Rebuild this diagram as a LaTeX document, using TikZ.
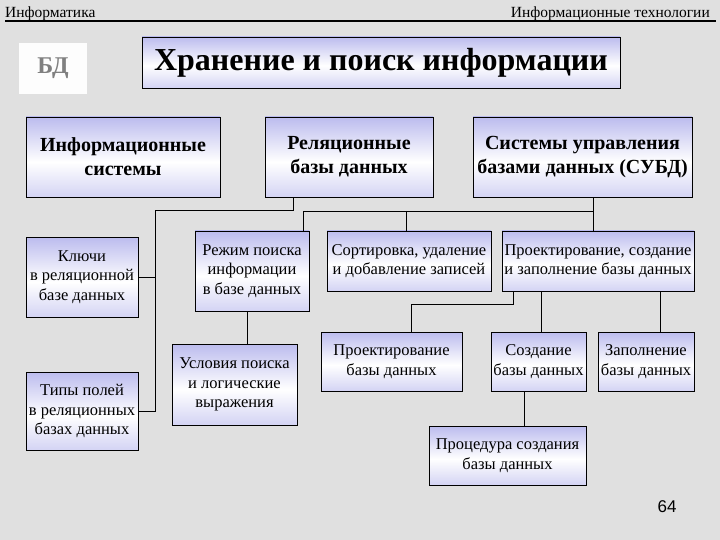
\documentclass[tikz,border=0pt]{standalone}
\usepackage{fontspec}
\setmainfont{Liberation Serif}
\newfontfamily\numfont{Liberation Sans}
\definecolor{paper}{HTML}{E0E0E0}
\definecolor{lilac}{HTML}{BCBCEE}
\pgfdeclareverticalshading{boxshade}{100bp}{color(0bp)=(lilac!65!white); color(25bp)=(lilac!65!white); color(47bp)=(white); color(75bp)=(lilac); color(100bp)=(lilac)}

\begin{document}
\begin{tikzpicture}[x=1pt,y=-1pt,
  box/.style={draw, line width=0.8pt, shading=boxshade, align=center, inner sep=0pt},
  bigbox/.style={box, font=\fontsize{20}{24}\selectfont\bfseries},
  smallbox/.style={box, font=\fontsize{16.5}{19.5}\selectfont},
  link/.style={line width=0.8pt}]
\useasboundingbox (0,0) rectangle (720,540);
\fill[paper] (0,0) rectangle (720,540);

% header
\node[anchor=base west, inner sep=0pt, font=\fontsize{15.5}{15}\selectfont] (hleft) at (5,18) {Информатика};
\node[anchor=base east, inner sep=0pt, font=\fontsize{15.5}{15}\selectfont] (hright) at (710,18) {Информационные технологии};
\draw[line width=1.5pt] (5,21) -- (716,21);

\node[fill=white!95!paper, minimum width=68, minimum height=51, text=gray, font=\fontsize{24}{24}\selectfont\bfseries] (bd) at (53,68.5) {БД};
\node[box, minimum width=478, minimum height=51, font=\fontsize{32}{32}\selectfont\bfseries] (title) at (381,62.5) {Хранение и поиск информации};

% first row
\node[bigbox, minimum width=194, minimum height=80] (infosys) at (123,157) {Информационные\\системы};
\node[bigbox, minimum width=168, minimum height=80] (reldb) at (349,157) {Реляционные\\базы данных};
\node[bigbox, minimum width=219, minimum height=80] (dbms) at (582.5,157) {Системы управления\\базами данных (СУБД)};

% lower boxes
\node[smallbox, minimum width=112, minimum height=80] (keys) at (82,277) {Ключи\\в реляционной\\базе данных};
\node[smallbox, minimum width=112, minimum height=78] (types) at (82,411) {Типы полей\\в реляционных\\базах данных};
\node[smallbox, minimum width=114, minimum height=80] (search) at (252,271) {Режим поиска\\информации\\в базе данных};
\node[smallbox, minimum width=125, minimum height=81] (cond) at (234.5,384.5) {Условия поиска\\и логические\\выражения};
\node[smallbox, minimum width=164, minimum height=60] (sort) at (409,261) {Сортировка, удаление\\и добавление записей};
\node[smallbox, minimum width=192, minimum height=60] (design) at (598,261) {Проектирование, создание\\и заполнение базы данных};
\node[smallbox, minimum width=141, minimum height=59] (proj) at (391.5,361.5) {Проектирование\\базы данных};
\node[smallbox, minimum width=95, minimum height=59] (create) at (538.5,361.5) {Создание\\базы данных};
\node[smallbox, minimum width=96, minimum height=59] (fillin) at (646,361.5) {Заполнение\\базы данных};
\node[smallbox, minimum width=157, minimum height=59] (proc) at (507.5,455.5) {Процедура создания\\базы данных};

\node[font=\numfont\fontsize{17}{17}\selectfont] (page) at (667,507) {64};

% connectors
\coordinate (rj) at (293,210);
\coordinate (lt) at (155,210);
\draw[link] (reldb.south -| rj) -- (rj) -- (lt) |- (types.east);
\draw[link] (lt |- keys.east) -- (keys.east);

\coordinate (sj) at (593,211);
\coordinate (sx) at (303,211);
\coordinate (so) at (406,211);
\draw[link] (dbms.south -| sj) -- (design.north -| sj);
\draw[link] (sj) -- (sx) -- (search.north -| sx);
\draw[link] (so) -- (sort.north -| so);

\coordinate (cj) at (247,0);
\draw[link] (search.south -| cj) -- (cond.north -| cj);

\coordinate (dp) at (513,304);
\coordinate (pp) at (411,304);
\coordinate (cr) at (541,0);
\coordinate (fl) at (660,0);
\coordinate (pr) at (524,0);
\draw[link] (design.south -| dp) -- (dp) -- (pp) -- (proj.north -| pp);
\draw[link] (design.south -| cr) -- (create.north -| cr);
\draw[link] (design.south -| fl) -- (fillin.north -| fl);
\draw[link] (create.south -| pr) -- (proc.north -| pr);
\end{tikzpicture}
\end{document}
